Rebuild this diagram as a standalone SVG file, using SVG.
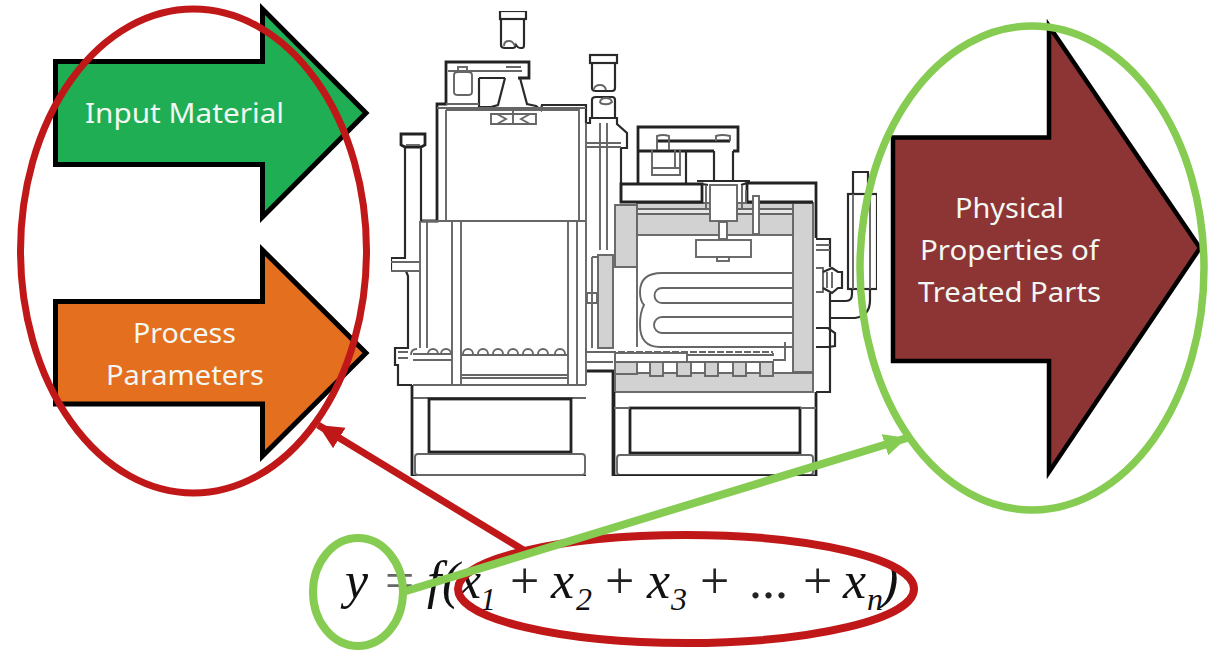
<svg xmlns="http://www.w3.org/2000/svg" width="1209" height="651" viewBox="0 0 1209 651">
<style>
.d{fill:none;stroke:#2a2a2a;stroke-width:2.200}
.k{fill:none;stroke:#222;stroke-width:2.800}
.g{fill:none;stroke:#666;stroke-width:1.900}
.w{fill:#fff;stroke:#666;stroke-width:1.900}
.s{fill:#d2d2d2;stroke:#666;stroke-width:1.900}
.ar{stroke:#000;stroke-width:5;stroke-linejoin:miter;stroke-miterlimit:10}
.lb{font-family:"Noto Sans","Open Sans",sans-serif;font-size:27px;fill:#f2f7f2;text-anchor:start}
.ring{fill:none}
.m{font-family:"Liberation Serif",serif;font-size:52px;font-style:italic;fill:#111}
.u{font-family:"Liberation Serif",serif;font-size:52px;fill:#222}
.sb{font-family:"Liberation Serif",serif;font-size:32px;font-style:italic;fill:#111}
</style>
<defs>
<filter id="soft" x="0" y="0" width="100%" height="100%"><feGaussianBlur stdDeviation="0.45"/></filter>
<marker id="hr" markerUnits="userSpaceOnUse" markerWidth="30" markerHeight="30" refX="25" refY="12" orient="auto"><path d="M0,0L25,12L0,24z" fill="#c01818"/></marker>
<marker id="hg" markerUnits="userSpaceOnUse" markerWidth="30" markerHeight="30" refX="23" refY="11" orient="auto"><path d="M0,0L23,11L0,22z" fill="#86cc52"/></marker>
</defs>
<rect width="1209" height="651" fill="#fff"/>
<g id="machine" filter="url(#soft)">
<rect class="d" x="500" y="11" width="26" height="8"/>
<path class="d" d="M501,19V45Q501,48 505,48H513Q515,48 516,45Q518,48 520,48H522Q524,48 524,45V19"/>
<path class="g" d="M504,46Q504,41 509,41Q513,41 515,46"/>
<rect class="d" x="590" y="55" width="27" height="8"/>
<path class="d" d="M592,63V88Q592,91 596,91H612Q615,91 615,88V63"/>
<path class="g" d="M594,89Q595,85 600,85Q605,85 606,90"/>
<path class="d" d="M592,118V100Q592,97 596,97H612Q615,97 615,100V118"/>
<path class="g" d="M600,103Q600,98 606,98Q611,98 612,102Q608,106 600,103"/>
<path class="d" d="M586,123H590V118H617V124L627,133V148H621V203"/>
<path class="g" d="M586,143H621M586,147H621M600,123V250M607,123V250"/>
<path class="k" d="M421,221H437V104H446V62H529V78H518"/>
<path class="d" d="M479,78H505M479,78V107"/>
<path class="d" d="M505,78L498,105L491,107L479,107M520,78L527,104L536,106L541,110L542,105H586V123"/>
<path class="g" d="M448,71H522M446,104H479M437,108H586M446,110H579M579,108V221M446,110V221M421,221H586"/>
<path class="g" d="M454,75Q454,72 458,72H468Q472,72 472,75V92Q472,95 468,95H458Q454,95 454,92Z"/>
<rect class="g" x="458" y="67" width="9" height="5"/>
<path class="g" d="M506,67H521M506,71H521"/>
<path class="g" d="M491,114H536V124H491ZM513,110V124M497,114L506,119L497,124M530,114L521,119L530,124"/>
<path class="k" d="M405,147H421L425,145V134H401V145Z"/>
<path class="d" d="M405,147V258M421,147V221"/>
<path class="g" d="M406,145H420"/>
<path class="g" d="M420,221V348M427,221V348M452,221V385M461,221V385M568,221V385M577,221V385M586,123V385"/>
<path class="d" d="M406,258H391V271H406L408,276V348H395V365H398V385H412"/>
<path class="k" d="M412,385V476H586"/>
<path class="g" d="M391,262H420M391,271H420M398,352H408M398,358H408"/>
<path class="g" d="M413,385H586M413,398H586"/>
<rect class="k" x="429" y="399" width="142" height="53"/>
<rect class="g" x="415" y="454" width="170" height="21" rx="3"/>
<path class="g" d="M413,354H452M413,360H452M461,355H568M461,375H568M461,378H568"/>
<path class="g" d="M411,355Q411,349 417,349M428,354a5,5 0 0 1 10,0M441,354a5,5 0 0 1 10,0M463,354a5,5 0 0 1 10,0M478,354a5,5 0 0 1 10,0M493,354a5,5 0 0 1 10,0M508,354a5,5 0 0 1 10,0M523,354a5,5 0 0 1 10,0M538,354a5,5 0 0 1 10,0M555,354a5,5 0 0 1 10,0"/>
<rect class="s" x="598" y="255" width="15" height="93"/>
<path class="g" d="M592,257H598M592,257V348M586,348V352H613M587,362H613"/>
<path class="g" d="M587,293H597V303H587Z"/>
<path class="k" d="M587,371H613V476"/>
<rect class="s" x="615" y="205" width="22" height="62"/>
<rect class="s" x="793" y="203" width="20" height="169"/>
<rect class="s" x="637" y="203" width="156" height="32"/>
<path class="w" d="M637,209H793V214H637Z" style="fill:#e6e6e6"/>
<path class="g" d="M637,267V347"/>
<path class="k" d="M638,184V127H738V151H733M638,151H714"/>
<path class="d" d="M686,151V183M714,151V180M733,151V180"/>
<path class="k" d="M657,141H730"/>
<path class="g" d="M657,141V136Q663,134 669,136V141M716,141V136Q722,134 730,136V141M652,150V175H680V150M675,150V168H680M652,168H675M657,141V150M669,141V150"/>
<path class="k" d="M621,184H702V202H621ZM747,202V183H816V238M747,202H813"/>
<path class="d" d="M697,181H750M702,184L708,185M747,183L741,185"/>
<rect class="w" x="710" y="185" width="27" height="36"/>
<path class="g" d="M706,185V208M742,185V208M746,190V202"/>
<rect class="w" x="719" y="222" width="8" height="17"/>
<rect class="w" x="696" y="240" width="55" height="17"/>
<rect class="w" x="717" y="257" width="12" height="4"/>
<rect class="w" x="753" y="196" width="6" height="38"/>
<path class="g" d="M793,273H662Q640,273 640,292Q640,301 644,305Q640,312 640,325Q640,347 660,347H793"/>
<path class="g" d="M793,288H662a7.500,7.500 0 0 0 0,15H793M793,317H662a8,8 0 0 0 0,16H793"/>
<path class="g" d="M785,342V360H773"/>
<path class="g" d="M600,352H773" stroke-dasharray="7 2"/>
<rect class="s" x="615" y="373" width="198" height="19"/>
<rect class="s" x="615" y="362" width="22" height="12"/>
<path class="g" d="M637,362H773V373"/>
<rect class="s" x="650" y="362" width="13" height="14"/>
<rect class="s" x="677" y="362" width="14" height="14"/>
<rect class="s" x="705" y="362" width="13" height="14"/>
<rect class="s" x="733" y="362" width="13" height="14"/>
<rect class="s" x="760" y="362" width="13" height="14"/>
<rect class="w" x="615" y="353" width="72" height="9"/>
<path class="g" d="M687,355H773V353"/>
<rect class="k" x="630" y="408" width="170" height="45"/>
<rect class="g" x="617" y="455" width="196" height="20" rx="3"/>
<path class="k" d="M614,392V476H816V392"/>
<path class="g" d="M614,408H630M800,408H816"/>
<path class="d" d="M816,239H830V267M816,392H830V293"/>
<path class="g" d="M816,245H830M816,250H830M816,268H823V292H816"/>
<path class="d" d="M823,272L832,268L838,272L842,272V288L838,288L832,293L823,288"/>
<path class="g" d="M827,272V288M832,272V288"/>
<path class="d" d="M830,301H846Q852,301 852,294V290M830,318H855Q870,316 870,300V290"/>
<path class="d" d="M816,328H828L835,333V346L828,347H816"/>
<rect class="d" x="848" y="194" width="29" height="95"/>
<path class="g" d="M853,194V289M870,194V289"/>
<path class="d" d="M853,194V172H868V194"/>
</g>
<g id="input-material">
<path class="ar" fill="#1fae54" d="M55.500,61.500H262.500V9L366,113L262.500,217V164.500H55.500Z"/>
<text class="lb" x="85" y="123" textLength="199" lengthAdjust="spacingAndGlyphs">Input Material</text>
</g>
<g id="process-parameters">
<path class="ar" fill="#e36f1f" d="M55.500,301.500H262.500V250L366,353L262.500,456V404H55.500Z"/>
<text class="lb" x="133" y="343" textLength="103" lengthAdjust="spacingAndGlyphs">Process</text>
<text class="lb" x="106" y="385" textLength="158" lengthAdjust="spacingAndGlyphs">Parameters</text>
</g>
<g id="physical-properties">
<path fill="#8d3534" stroke="#000" stroke-width="4.500" stroke-miterlimit="10" d="M893,137.500H1049V26L1200,248L1049,472V361H893Z"/>
<text class="lb" x="955" y="218" textLength="109" lengthAdjust="spacingAndGlyphs">Physical</text>
<text class="lb" x="920" y="260" textLength="179" lengthAdjust="spacingAndGlyphs">Properties of</text>
<text class="lb" x="918" y="302" textLength="183" lengthAdjust="spacingAndGlyphs">Treated Parts</text>
</g>
<g id="formula">
<text class="m" x="345" y="598">y</text>
<text class="u" x="385" y="598" style="fill:#666">=</text>
<text class="m" x="427" y="598">f</text>
<text class="m" x="442" y="598">(</text>
<text class="m" x="458" y="598">x</text>
<text class="sb" x="480" y="610">1</text>
<text class="u" x="510" y="598">+</text>
<text class="m" x="551" y="598">x</text>
<text class="sb" x="576" y="610">2</text>
<text class="u" x="605" y="598">+</text>
<text class="m" x="647" y="598">x</text>
<text class="sb" x="671" y="610">3</text>
<text class="u" x="700" y="598">+</text>
<text class="u" x="749" y="598">...</text>
<text class="u" x="803" y="598">+</text>
<text class="m" x="843" y="598">x</text>
<text class="sb" x="867" y="610">n</text>
<text class="m" x="881" y="598">)</text>
</g>
<g id="rings">
<ellipse id="ring-inputs" class="ring" stroke="#c01818" stroke-width="7" cx="193.500" cy="251" rx="173" ry="242"/>
<ellipse id="ring-output" class="ring" stroke="#86cc52" stroke-width="7.500" cx="1032" cy="268" rx="172" ry="242"/>
<ellipse id="ring-x" class="ring" stroke="#c01818" stroke-width="8" cx="686" cy="589" rx="228" ry="54"/>
<ellipse id="ring-y" class="ring" stroke="#86cc52" stroke-width="8" cx="358" cy="592" rx="45" ry="54"/>
</g>
<g id="connectors" fill="none">
<path stroke="#c01818" stroke-width="7" marker-end="url(#hr)" d="M525,551L318,425"/>
<path stroke="#86cc52" stroke-width="8" marker-end="url(#hg)" d="M403,592L907,438"/>
</g>
</svg>
